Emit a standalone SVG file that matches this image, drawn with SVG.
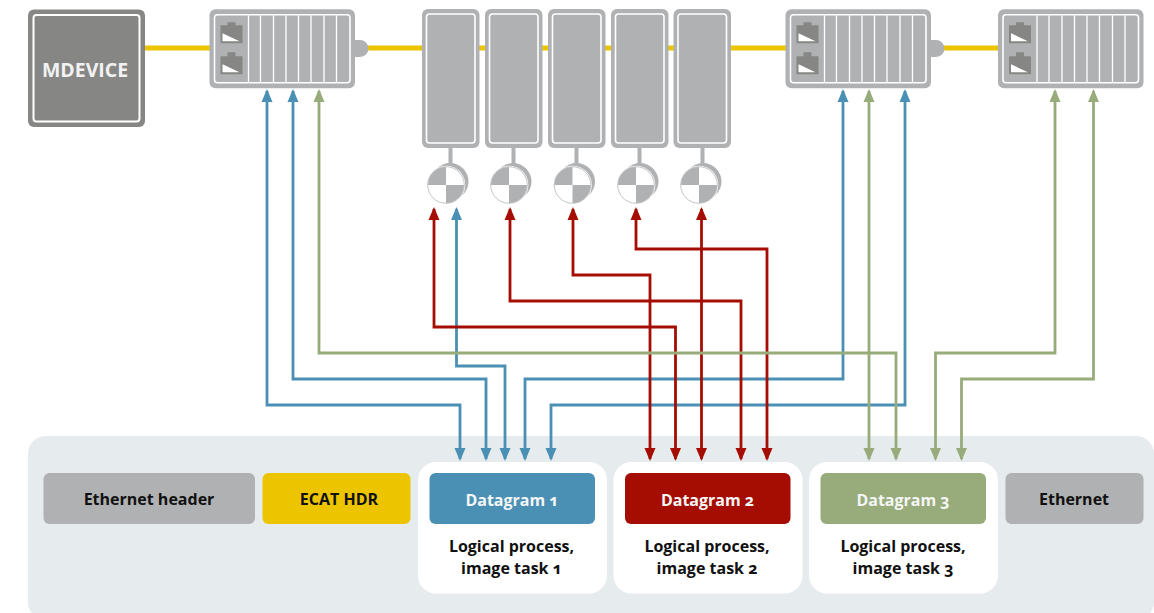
<svg xmlns="http://www.w3.org/2000/svg" xmlns:xlink="http://www.w3.org/1999/xlink" width="1154" height="613" viewBox="0 0 1154 613">
<style>
text{font-family:"Open Sans","Noto Sans","Liberation Sans",sans-serif;font-weight:700;text-anchor:middle;font-variant-numeric:oldstyle-nums}
.dk{font-size:16px;fill:#111}
.wt{font-size:16px;fill:#f4f6f6}
.gray{fill:#b0b1b3}
.in{fill:none;stroke:#fff;stroke-width:1.6}
.div{stroke:#fff;stroke-width:1.3}
.cn{fill:none;stroke-width:2.8}
.b{stroke:#4a90b4;marker-start:url(#mb);marker-end:url(#mb)}
.r{stroke:#a50d02;marker-start:url(#mr);marker-end:url(#mr)}
.g{stroke:#98ab7b;marker-start:url(#mg);marker-end:url(#mg)}
.card{fill:#fff}
</style>
<defs>
<marker id="mb" markerUnits="userSpaceOnUse" markerWidth="14" markerHeight="14" refX="11" refY="6" orient="auto-start-reverse"><path d="M0 0.500 L13 6 L0 11.500 Z" fill="#4a90b4"/></marker>
<marker id="mr" markerUnits="userSpaceOnUse" markerWidth="14" markerHeight="14" refX="11" refY="6" orient="auto-start-reverse"><path d="M0 0.500 L13 6 L0 11.500 Z" fill="#a50d02"/></marker>
<marker id="mg" markerUnits="userSpaceOnUse" markerWidth="14" markerHeight="14" refX="11" refY="6" orient="auto-start-reverse"><path d="M0 0.500 L13 6 L0 11.500 Z" fill="#98ab7b"/></marker>
<g id="io">
<rect class="gray" x="0" y="0" width="145.500" height="79" rx="6"/>
<rect class="in" x="5" y="5.500" width="135.500" height="68" rx="3"/>
<path class="div" d="M39 6V73M51 6V73M64 6V73M76.500 6V73M89 6V73M101.500 6V73M114.500 6V73M127 6V73"/>
<path fill="#868685" d="M11 16H18V13H26V16H33V34H11Z"/>
<path fill="#fff" d="M13 24L30 32H13Z"/>
<path fill="#868685" d="M11 47H18V43H26V47H33V65H11Z"/>
<path fill="#fff" d="M13 55L30 63H13Z"/>
</g>
<g id="disc">
<circle cx="4" cy="-3.500" r="18.500" fill="#b0b1b3"/>
<circle cx="0" cy="0" r="19.300" fill="#fff"/>
<circle cx="0" cy="0" r="18.300" fill="#fff" stroke="#c4c5c7" stroke-width="1"/>
<path class="gray" d="M0 0V-18A18 18 0 0 0 -18 0ZM0 0V18A18 18 0 0 0 18 0Z"/>
</g>
<g id="slave">
<rect class="gray" x="0" y="0" width="57.500" height="139" rx="6"/>
<rect class="in" x="4.500" y="5" width="48.500" height="129" rx="3"/>
</g>
</defs>

<rect id="frame-bg" x="28" y="436" width="1126" height="184" rx="18" fill="#e6ebee"/>

<g id="bus"><path d="M145 48H1000" stroke="#ecc500" stroke-width="5" fill="none"/></g>

<g id="mdevice">
<rect x="28" y="9.500" width="117" height="117.500" rx="6" fill="#868685"/>
<rect x="33.500" y="15" width="106" height="106.500" rx="3" fill="none" stroke="#fff" stroke-width="2"/>
<text x="85" y="77" style="font-size:19.500px;font-weight:700;fill:#f2f2f2">MDEVICE</text>
</g>

<g id="io1"><rect class="gray" x="345" y="40" width="23.500" height="17" rx="8.500"/><use xlink:href="#io" href="#io" x="209.500" y="9.300"/></g>
<g id="io2"><rect class="gray" x="921" y="40" width="23.500" height="17" rx="8.500"/><use xlink:href="#io" href="#io" x="785.500" y="9.300"/></g>
<g id="io3"><use xlink:href="#io" href="#io" x="998" y="9.300"/></g>

<g id="drive1"><rect class="gray" x="448.500" y="147" width="4" height="18"/><use href="#slave" x="422" y="9"/><use href="#disc" x="446" y="185"/></g>
<g id="drive2"><rect class="gray" x="511.500" y="147" width="4" height="18"/><use href="#slave" x="485" y="9"/><use href="#disc" x="509" y="185"/></g>
<g id="drive3"><rect class="gray" x="574.500" y="147" width="4" height="18"/><use href="#slave" x="548" y="9"/><use href="#disc" x="572.500" y="185"/></g>
<g id="drive4"><rect class="gray" x="637.500" y="147" width="4" height="18"/><use href="#slave" x="611" y="9"/><use href="#disc" x="636" y="185"/></g>
<g id="drive5"><rect class="gray" x="700.500" y="147" width="4" height="18"/><use href="#slave" x="673.500" y="9"/><use href="#disc" x="699" y="185"/></g>

<g id="eth-header"><rect x="43.500" y="473" width="211.500" height="51" rx="6" class="gray"/><text class="dk" x="149" y="504.500">Ethernet header</text></g>
<g id="ecat-hdr"><rect x="262.500" y="473" width="148" height="51" rx="6" fill="#ecc500"/><text class="dk" x="339" y="504.500">ECAT HDR</text></g>
<g id="dg1"><rect class="card" x="418" y="462" width="189" height="131.500" rx="18"/><rect x="429.500" y="473" width="165.500" height="51" rx="6" fill="#4a90b4"/><text class="wt" x="512" y="505.500">Datagram 1</text><text class="dk" x="511.500" y="552">Logical process,</text><text class="dk" x="511.500" y="574">image task 1</text></g>
<g id="dg2"><rect class="card" x="613.500" y="462" width="189" height="131.500" rx="18"/><rect x="625" y="473" width="165.500" height="51" rx="6" fill="#a50d02"/><text class="wt" x="707.500" y="505.500">Datagram 2</text><text class="dk" x="707" y="552">Logical process,</text><text class="dk" x="707" y="574">image task 2</text></g>
<g id="dg3"><rect class="card" x="809" y="462" width="189" height="131.500" rx="18"/><rect x="820.500" y="473" width="165.500" height="51" rx="6" fill="#98ab7b"/><text class="wt" x="903" y="505.500">Datagram 3</text><text class="dk" x="903" y="552">Logical process,</text><text class="dk" x="903" y="574">image task 3</text></g>
<g id="eth"><rect x="1005.500" y="473" width="138" height="51" rx="6" class="gray"/><text class="dk" x="1074" y="504.500">Ethernet</text></g>

<g id="connectors">
<path class="cn b" d="M267 91V405H460V459"/>
<path class="cn b" d="M293 91V379H486V459"/>
<path class="cn b" d="M456.500 209V366H505V459"/>
<path class="cn b" d="M843 91V379H525V459"/>
<path class="cn b" d="M905 91V405H551V459"/>
<path class="cn r" d="M434 209V327H675.500V459"/>
<path class="cn r" d="M510 209V301H741V459"/>
<path class="cn r" d="M573 209V275H650V459"/>
<path class="cn r" d="M636 209V249H767V459"/>
<path class="cn r" d="M701.500 209V459"/>
<path class="cn g" d="M319 91V353H896V459"/>
<path class="cn g" d="M869 91V459"/>
<path class="cn g" d="M1055 91V353H935.500V459"/>
<path class="cn g" d="M1093.500 91V379H961.500V459"/>
</g>
</svg>
